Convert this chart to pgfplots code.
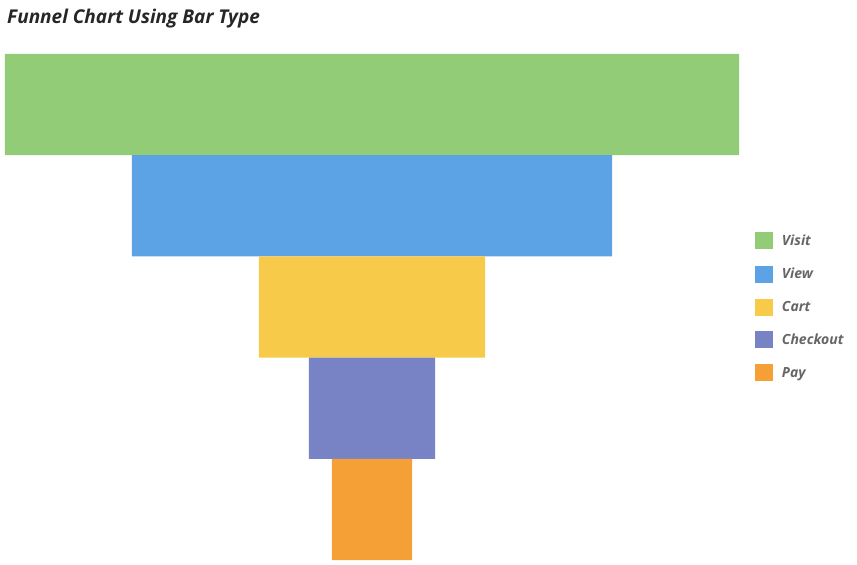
\documentclass[border=0pt]{standalone}
\usepackage{fontspec}
\setmainfont{Open Sans}
\usepackage{pgfplots}
\pgfplotsset{compat=1.18}

\definecolor{cvisit}{HTML}{93CC76}
\definecolor{cview}{HTML}{5CA3E6}
\definecolor{ccart}{HTML}{F7CA49}
\definecolor{ccheck}{HTML}{7883C6}
\definecolor{cpay}{HTML}{F5A037}
\definecolor{legtext}{HTML}{666666}

\begin{document}
\begin{tikzpicture}
\begin{axis}[
    at={(5pt,5pt)}, anchor=south west,
    scale only axis,
    width=734pt, height=506pt,
    xmin=-50, xmax=50,
    ymin=-0.5, ymax=4.5,
    hide axis,
    xbar, bar width=1, bar shift=0,
    legend style={
        draw=none, fill=none,
        at={(rel axis cs:1.0174,0.5)}, anchor=west,
        font=\fontsize{14pt}{16pt}\selectfont\bfseries\itshape\color{legtext},
        row sep=16pt,
        cells={anchor=west},
    },
    legend image code/.code={\fill[#1] (0pt,-8.5pt) rectangle (18pt,8.5pt); \path (25pt,0pt);},
]
% each stage is drawn as two halves around the centre line
\addplot[fill=cvisit, draw=none] coordinates {(-50,4) (50,4)};
\addplot[fill=cview, draw=none] coordinates {(-32.7,3) (32.7,3)};
\addplot[fill=ccart, draw=none] coordinates {(-15.4,2) (15.4,2)};
\addplot[fill=ccheck, draw=none] coordinates {(-8.6,1) (8.6,1)};
\addplot[fill=cpay, draw=none] coordinates {(-5.45,0) (5.45,0)};
\legend{Visit, View, Cart, Checkout, Pay}
\end{axis}
\node[anchor=west, inner sep=0pt, font=\fontsize{19pt}{22pt}\selectfont\bfseries\itshape, text=black!85]
    at (7pt,546pt) {Funnel Chart Using Bar Type};
\pgfresetboundingbox
\path (0,0) rectangle (857pt,565pt);
\end{tikzpicture}
\end{document}
